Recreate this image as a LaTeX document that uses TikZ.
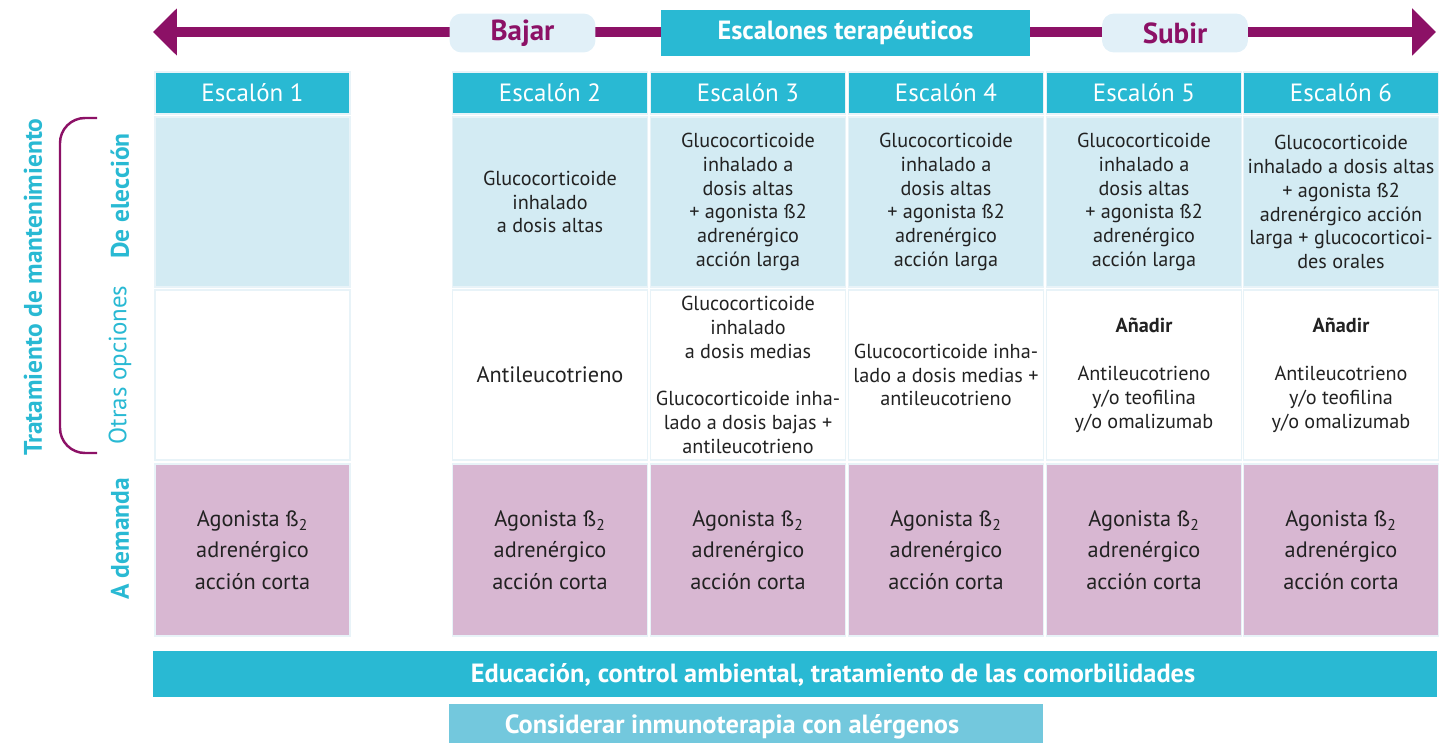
\documentclass[tikz,border=0pt]{standalone}
\usepackage{fontspec}
\setmainfont{PT Sans}
\usetikzlibrary{arrows.meta}

\definecolor{escteal}{HTML}{29B9D3}
\definecolor{esclight}{HTML}{D3EBF3}
\definecolor{escpink}{HTML}{D8B7D2}
\definecolor{escpurple}{HTML}{8C1166}
\definecolor{escpale}{HTML}{E1F0F8}
\definecolor{escsky}{HTML}{73C8DD}
\definecolor{escline}{HTML}{E8F3F8}
\definecolor{esctext}{HTML}{222222}

\newcommand\esccell{\fontsize{11.5}{13.6}\selectfont}
\newcommand\escbig{\fontsize{12.7}{18}\selectfont}
\newcommand\eschead{\fontsize{14.2}{16}\selectfont}
\newcommand\escside{\fontsize{14.5}{16}\selectfont\bfseries}
\newcommand\esctitle{\fontsize{15}{17}\selectfont\bfseries}
\newcommand\escpill{\fontsize{16.5}{19}\selectfont\bfseries}

\begin{document}
\begin{tikzpicture}[x=0.02cm, y=-0.02cm,
    cell/.style={minimum width=3.9cm, inner sep=0pt, align=center, draw=escline, line width=0.8pt, text=esctext, font=\esccell},
    headcell/.style={cell, fill=escteal, minimum height=0.84cm, text=white, font=\eschead},
    eleccell/.style={cell, fill=esclight, minimum height=3.4cm},
    otracell/.style={cell, fill=white, minimum height=3.4cm},
    demcell/.style={cell, fill=escpink, minimum height=3.44cm, font=\escbig},
    sidelabel/.style={rotate=90, text=escteal, font=\escside},
    pill/.style={fill=escpale, rounded corners=0.24cm, minimum width=2.92cm, minimum height=0.78cm, inner sep=0pt, text=escpurple, font=\escpill},
    band/.style={inner sep=0pt, minimum height=0.92cm}]
                \useasboundingbox (0,0) rectangle (1451,743);

                % the arrow on top
                \coordinate (downend) at (153,32);
                \coordinate (upend) at (1436,32);
                \draw[escpurple, line width=0.2cm, {Triangle[length=0.48cm,width=0.92cm]}-{Triangle[length=0.48cm,width=0.92cm]}] (downend) -- (upend);

                \node[pill] (bajar) at (522.5,33) {Bajar};
                \node[band, fill=escteal, minimum width=7.38cm, text=white, font=\esctitle] (escalones) at (845.5,33) {Escalones terapéuticos};
                \node[pill] (subir) at (1175,33) {Subir};

                % labels on the left
                \node[sidelabel] (tratamiento) at (33,287) {Tratamiento de mantenimiento};
                \node[sidelabel] (eleccion) at (120,196) {De elección};
                \node[sidelabel, font=\eschead] (otras) at (120,365) {Otras opciones};
                \node[sidelabel] (demanda) at (120,539) {A demanda};
                \draw[escpurple, line width=1.4pt, rounded corners=0.5cm] (97,118) -- (60,118) -- (60,453) -- (97,453);

                % headers
                \foreach \n/\x in {1/252.5, 2/550, 3/748, 4/946, 5/1144, 6/1341}
                    \node[headcell] (head\n) at (\x,93) {Escalón \n};

                % de eleccion
                \node[eleccell] (elec1) at (252.5,202) {};
                \node[eleccell] (elec2) at (550,202) {Glucocorticoide\\inhalado\\a dosis altas};
                \node[eleccell] (elec3) at (748,202) {Glucocorticoide\\inhalado a\\dosis altas\\+ agonista ß2\\adrenérgico\\acción larga};
                \node[eleccell] (elec4) at (946,202) {Glucocorticoide\\inhalado a\\dosis altas\\+ agonista ß2\\adrenérgico\\acción larga};
                \node[eleccell] (elec5) at (1144,202) {Glucocorticoide\\inhalado a\\dosis altas\\+ agonista ß2\\adrenérgico\\acción larga};
                \node[eleccell] (elec6) at (1341,202) {Glucocorticoide\\inhalado a dosis altas\\+ agonista ß2\\adrenérgico acción\\larga + glucocorticoi-\\des orales};

                % otras opciones
                \node[otracell] (otra1) at (252.5,375) {};
                \node[otracell, font=\escbig] (otra2) at (550,375) {Antileucotrieno};
                \node[otracell] (otra3) at (748,375) {Glucocorticoide\\inhalado\\a dosis medias\\[13.6pt]Glucocorticoide inha-\\lado a dosis bajas +\\antileucotrieno};
                \node[otracell] (otra4) at (946,375) {Glucocorticoide inha-\\lado a dosis medias +\\antileucotrieno};
                \node[otracell] (otra5) at (1144,375) {\textbf{Añadir}\\[13.6pt]Antileucotrieno\\y/o teofilina\\y/o omalizumab};
                \node[otracell] (otra6) at (1341,375) {\textbf{Añadir}\\[13.6pt]Antileucotrieno\\y/o teofilina\\y/o omalizumab};

                % a demanda
                \foreach \n/\x in {1/252.5, 2/550, 3/748, 4/946, 5/1144, 6/1341}
                    \node[demcell] (dem\n) at (\x,550) {Agonista ß\textsubscript{2}\\adrenérgico\\acción corta};

                % bands at the bottom
                \node[band, fill=escteal, minimum width=25.68cm] (eduband) at (795,674) {};
                \node[text=white, font=\esctitle] (edutext) at (833,675) {Educación, control ambiental, tratamiento de las comorbilidades};
                \node[band, fill=escsky, minimum width=11.88cm, minimum height=0.78cm, anchor=north] (inmuband) at (746,704) {};
                \node[text=white, font=\esctitle] (inmutext) at (732,727) {Considerar inmunoterapia con alérgenos};

            \end{tikzpicture}
\end{document}
